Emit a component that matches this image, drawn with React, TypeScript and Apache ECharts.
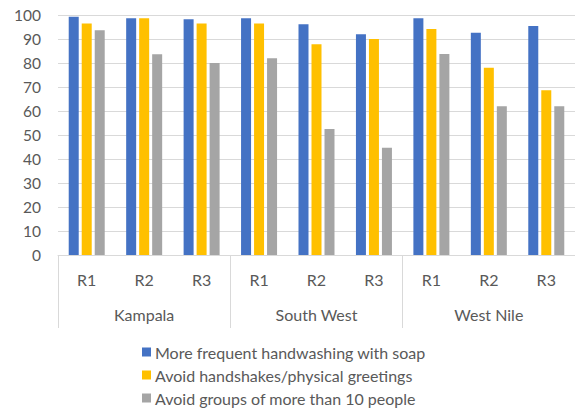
import React, { useEffect, useRef } from "react";
import * as echarts from "echarts";

const rounds = ["R1", "R2", "R3", "R1", "R2", "R3", "R1", "R2", "R3"];
const regions = ["Kampala", "South West", "West Nile"];
const yTicks = { min: 0, max: 100, step: 10 };

const handwashing = [99.3, 98.6, 98.2, 98.6, 96.1, 92.0, 98.6, 92.6, 95.4];
const noHandshakes = [96.5, 98.6, 96.5, 96.5, 87.8, 90.0, 94.2, 78.0, 68.6];
const noGroups = [93.6, 83.6, 80.0, 82.0, 52.5, 44.7, 83.8, 62.0, 62.0];

const seriesNames = [
  "More frequent handwashing with soap",
  "Avoid handshakes/physical greetings",
  "Avoid groups of more than 10 people",
];
const seriesColors = ["#4472C4", "#FFC000", "#A5A5A5"];

const FONT = "Lato, sans-serif";
const TEXT = "#595959";
const LINE = "#d9d9d9";

export default function App() {
  const ref = useRef<HTMLDivElement>(null);

  useEffect(() => {
    if (!ref.current) return;
    const chart = echarts.init(ref.current, undefined, { renderer: "svg" });
    const values = [handwashing, noHandshakes, noGroups];
    chart.setOption({
      animation: false,
      textStyle: { fontFamily: FONT },
      grid: { left: 58, right: -5, top: 15, bottom: 155 },
      legend: {
        orient: "vertical",
        left: 142,
        top: 343,
        height: 67,
        itemWidth: 9,
        itemHeight: 9,
        itemGap: 5,
        padding: 0,
        icon: "rect",
        textStyle: { fontFamily: FONT, fontSize: 16, color: TEXT, lineHeight: 18, padding: [0, 0, 0, -1] },
        data: seriesNames,
      },
      xAxis: [
        {
          type: "category",
          data: rounds,
          position: "bottom",
          axisLine: { show: true, lineStyle: { color: LINE } },
          axisTick: { show: false },
          axisLabel: { color: TEXT, fontSize: 16, margin: 16, fontFamily: FONT },
        },
        {
          type: "category",
          data: regions,
          position: "bottom",
          axisLine: { show: false },
          axisTick: { show: true, length: 73, lineStyle: { color: LINE } },
          axisLabel: { color: TEXT, fontSize: 16, margin: 51, fontFamily: FONT },
        },
      ],
      yAxis: {
        type: "value",
        min: yTicks.min,
        max: yTicks.max,
        interval: yTicks.step,
        axisLine: { show: false },
        axisTick: { show: false },
        splitLine: { lineStyle: { color: LINE } },
        axisLabel: { color: TEXT, fontSize: 15.5, margin: 17, fontFamily: FONT },
      },
      series: values.map((d, i) => ({
        type: "bar",
        name: seriesNames[i],
        xAxisIndex: 0,
        data: d,
        barWidth: 10,
        barGap: "30%",
        itemStyle: { color: seriesColors[i] },
      })),
    });
    return () => chart.dispose();
  }, []);

  return (
    <div
      ref={ref}
      style={{ position: "fixed", left: 0, top: 0, width: 575, height: 410, background: "#fff" }}
    />
  );
}
